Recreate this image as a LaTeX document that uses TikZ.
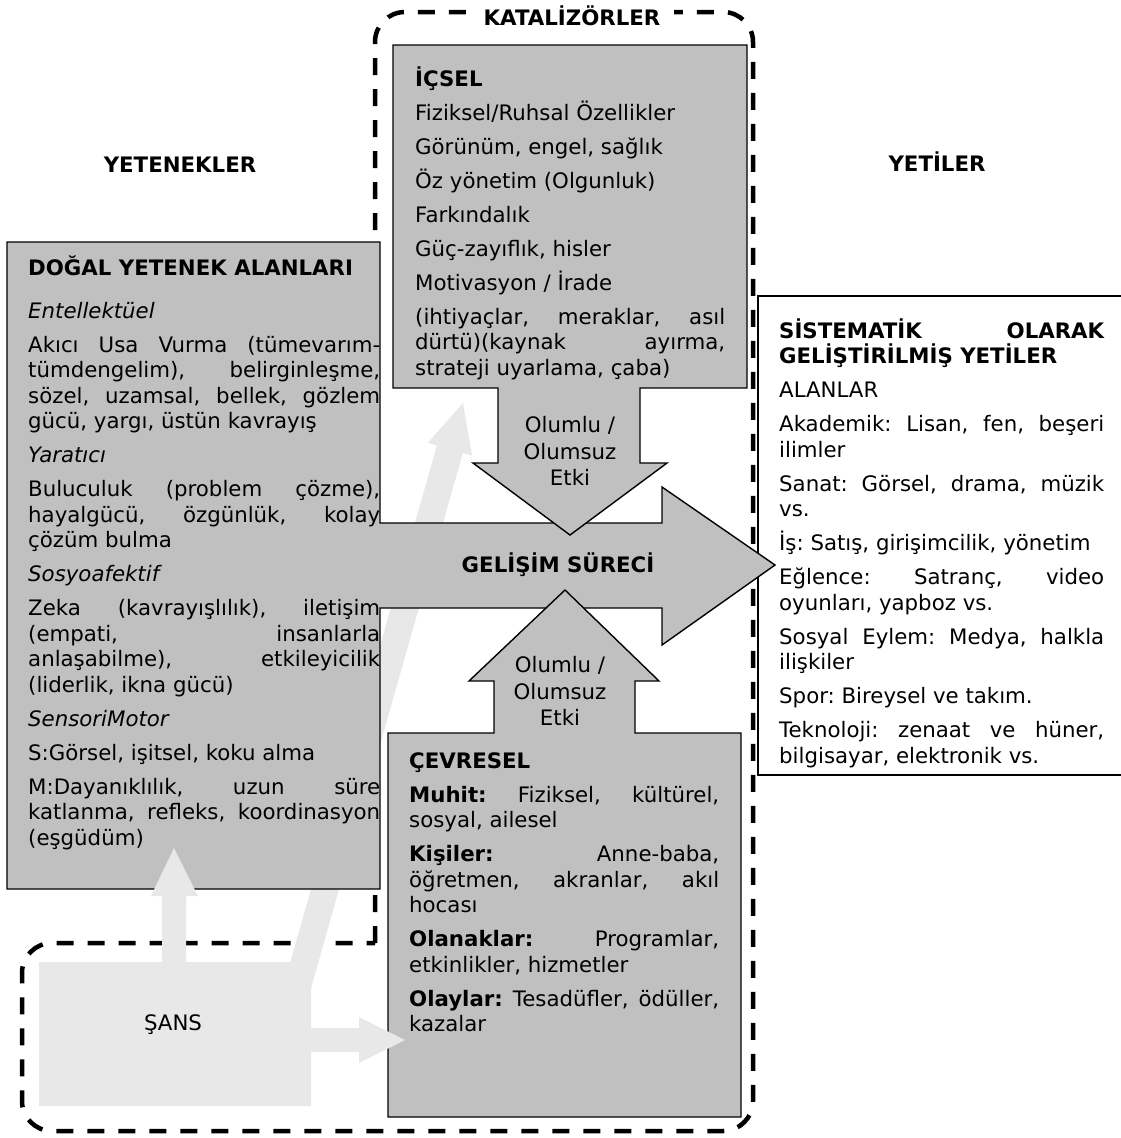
\documentclass[tikz,border=0pt]{standalone}
\usepackage{fontspec}
\setmainfont{DejaVu Sans}
\usetikzlibrary{positioning}
\definecolor{boxgray}{HTML}{C0C0C0}
\definecolor{chancegray}{HTML}{E8E8E8}
\tolerance=10000
\hbadness=10000
\hyphenpenalty=10000
\exhyphenpenalty=10000
\frenchspacing

\begin{document}
\begin{tikzpicture}[x=1pt,y=-1pt,
      gray_box/.style={
        draw=black,
        fill=boxgray,
        line width=1.4pt,
        line join=miter},
      white_box/.style={
        draw=black,
        fill=white,
        line width=1.4pt},
      light_shape/.style={
        fill=chancegray},
      dash_line/.style={
        draw=black,
        line width=4.5pt,
        dash pattern=on 17pt off 14pt},
      box_text/.style={
        anchor=base west,
        inner sep=0pt,
        align=justify,
        font=\fontsize{21.3}{25.5}\selectfont,
        execute at begin node={\setlength{\parskip}{8.5pt}}},
      head_text/.style={
        font=\fontsize{21.3}{25.5}\selectfont\bfseries},
      arrow_text/.style={
        align=center,
        font=\fontsize{21.3}{26.5}\selectfont}
]
      \useasboundingbox (0,0) rectangle (1120,1138);

      %catalysts frame
      \draw[dash_line] (375,943) [rounded corners=30pt] -- (375,12) -- (753,12)
        -- (753,1131) -- (22,1131) -- (22,943) -- (375,943);

      %chance arrow behind the abilities
      \fill[light_shape] (280.6,996.3) -- (436.9,445.5) -- (427.8,442.9) -- (463,403)
        -- (472.0,455.5) -- (462.9,452.9) -- (306.6,1003.7) -- cycle;

      %competencies
      \draw[white_box] (758,296) rectangle (1130,775);

      %abilities and development arrow
      \draw[gray_box] (7,242) -- (380,242) -- (380,523) -- (662,523) -- (662,487)
        -- (775,565) -- (662,645) -- (662,608) -- (380,608) -- (380,889) -- (7,889) -- cycle;

      %intrapersonal
      \draw[gray_box] (393,45) -- (747,45) -- (747,388) -- (640,388) -- (640,463)
        -- (667,463) -- (570,535) -- (473,463) -- (498,463) -- (498,388) -- (393,388) -- cycle;

      %environmental
      \draw[gray_box] (388,1117) -- (388,733) -- (494,733) -- (494,681) -- (469,681)
        -- (565,590) -- (659,681) -- (635,681) -- (635,733) -- (741,733) -- (741,1117) -- cycle;

      %chance
      \fill[light_shape] (39,962) -- (162,962) -- (162,896) -- (151,896) -- (174,848)
        -- (198,896) -- (186,896) -- (186,962) -- (311,962) -- (311,1028) -- (359,1028)
        -- (359,1017) -- (405,1040) -- (359,1063) -- (359,1052) -- (311,1052)
        -- (311,1106) -- (39,1106) -- cycle;

      \node[head_text,fill=white,inner xsep=14pt] (katalizor) at (572,16) {KATALİZÖRLER};
      \node[head_text] (yetenek) at (180,165) {YETENEKLER};
      \node[head_text] (yeti) at (937,162) {YETİLER};
      \node[head_text] (gelisim) at (558,565) {GELİŞİM SÜRECİ};
      \node[arrow_text] (etki_ic) at (570,451) {Olumlu /\\Olumsuz\\Etki};
      \node[arrow_text] (etki_cevre) at (560,691) {Olumlu /\\Olumsuz\\Etki};
      \node[arrow_text] (sans) at (173,1025) {ŞANS};

      \node[box_text,text width=352pt] (dogal) at (28,275) {%
        \textbf{DOĞAL YETENEK ALANLARI}\par\vspace{9pt}
        \textit{Entellektüel}\par
        Akıcı Usa Vurma (tümevarım-\linebreak tümdengelim), belirginleşme,\linebreak
        sözel, uzamsal, bellek, gözlem\linebreak gücü, yargı, üstün kavrayış\par
        \textit{Yaratıcı}\par
        Buluculuk (problem çözme),\linebreak hayalgücü, özgünlük, kolay\linebreak
        çözüm bulma\par
        \textit{Sosyoafektif}\par
        Zeka (kavrayışlılık), iletişim\linebreak (empati, insanlarla\linebreak
        anlaşabilme), etkileyicilik\linebreak (liderlik, ikna gücü)\par
        \textit{SensoriMotor}\par
        S:Görsel, işitsel, koku alma\par
        M:Dayanıklılık, uzun süre\linebreak katlanma, refleks, koordinasyon\linebreak
        (eşgüdüm)};

      \node[box_text,text width=310pt] (icsel) at (415,86) {%
        \textbf{İÇSEL}\par
        Fiziksel/Ruhsal Özellikler\par
        Görünüm, engel, sağlık\par
        Öz yönetim (Olgunluk)\par
        Farkındalık\par
        Güç-zayıflık, hisler\par
        Motivasyon / İrade\par
        (ihtiyaçlar, meraklar, asıl\linebreak dürtü)(kaynak ayırma,\linebreak
        strateji uyarlama, çaba)};

      \node[box_text,text width=310pt] (cevresel) at (409,768) {%
        \textbf{ÇEVRESEL}\par
        \textbf{Muhit:} Fiziksel, kültürel,\linebreak sosyal, ailesel\par
        \textbf{Kişiler:} Anne-baba,\linebreak öğretmen, akranlar, akıl\linebreak hocası\par
        \textbf{Olanaklar:} Programlar,\linebreak etkinlikler, hizmetler\par
        \textbf{Olaylar:} Tesadüfler, ödüller,\linebreak kazalar};

      \node[box_text,text width=325pt] (sistematik) at (779,338) {%
        \textbf{SİSTEMATİK OLARAK\linebreak GELİŞTİRİLMİŞ YETİLER}\par
        ALANLAR\par
        Akademik: Lisan, fen, beşeri\linebreak ilimler\par
        Sanat: Görsel, drama, müzik\linebreak vs.\par
        İş: Satış, girişimcilik, yönetim\par
        Eğlence: Satranç, video\linebreak oyunları, yapboz vs.\par
        Sosyal Eylem: Medya, halkla\linebreak ilişkiler\par
        Spor: Bireysel ve takım.\par
        Teknoloji: zenaat ve hüner,\linebreak bilgisayar, elektronik vs.};
\end{tikzpicture}
\end{document}
